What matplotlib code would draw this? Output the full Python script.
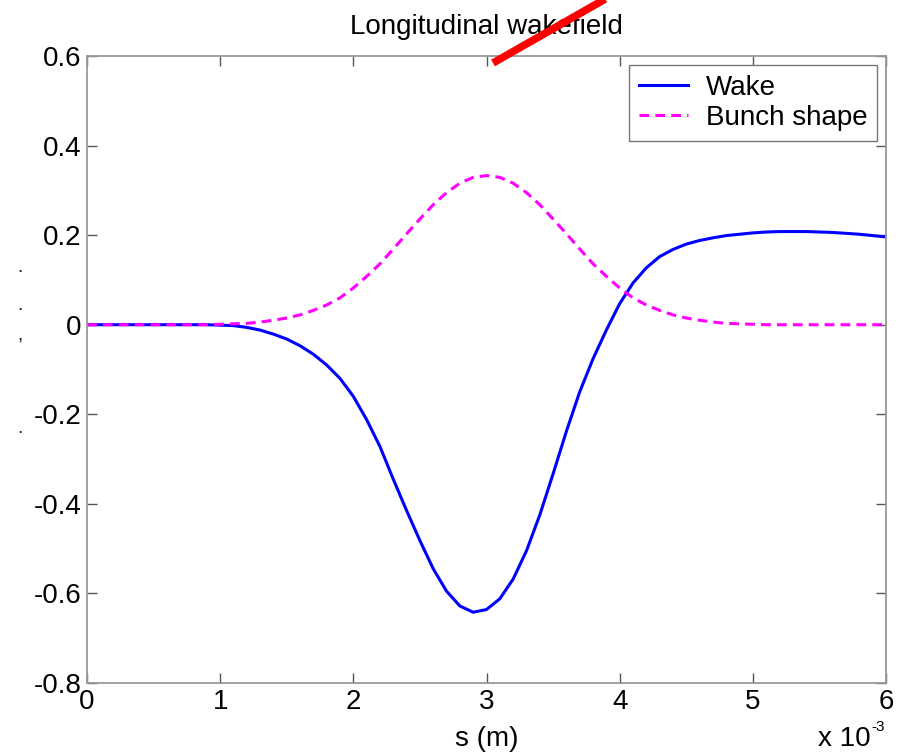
import numpy as np
import matplotlib
matplotlib.use("Agg")
import matplotlib.pyplot as plt
from matplotlib.lines import Line2D

# ------------------------------------------
# data (s in units of 1e-3 m)
# ------------------------------------------
s = np.linspace(0, 6, 61)

wake = [
    0, 0, 0, 0, 0, 0, 0, 0, 0, 0,
    -0.001, -0.002, -0.006, -0.012, -0.021, -0.032, -0.047, -0.066, -0.090, -0.120,
    -0.160, -0.212, -0.272, -0.345, -0.415, -0.482, -0.545, -0.595, -0.628, -0.642,
    -0.636, -0.612, -0.568, -0.505, -0.425, -0.333, -0.238, -0.150, -0.076, -0.012,
    0.047, 0.093, 0.127, 0.152, 0.168, 0.180, 0.188, 0.194, 0.199, 0.202,
    0.205, 0.207, 0.208, 0.208, 0.208, 0.207, 0.206, 0.204, 0.202, 0.199,
    0.196,
]

bunch = [
    0, 0, 0, 0, 0, 0, 0, 0, 0, 0,
    0.001, 0.002, 0.003, 0.006, 0.010, 0.015, 0.022, 0.032, 0.044, 0.060,
    0.082, 0.108, 0.136, 0.169, 0.203, 0.236, 0.268, 0.295, 0.316, 0.329,
    0.333, 0.329, 0.316, 0.295, 0.268, 0.236, 0.203, 0.169, 0.136, 0.108,
    0.082, 0.060, 0.044, 0.032, 0.022, 0.015, 0.010, 0.006, 0.003, 0.002,
    0.001, 0, 0, 0, 0, 0, 0, 0, 0, 0,
    0,
]

x_ticks = [0, 1, 2, 3, 4, 5, 6]
y_ticks = [-0.8, -0.6, -0.4, -0.2, 0, 0.2, 0.4, 0.6]
y_labels = ["-0.8", "-0.6", "-0.4", "-0.2", "0", "0.2", "0.4", "0.6"]

# ------------------------------------------
# figure
# ------------------------------------------
plt.rcParams["font.family"] = ["Liberation Sans", "DejaVu Sans"]
FS = 20
W, H = 906, 753
fig = plt.figure(figsize=(W / 100, H / 100), dpi=100)
ax = fig.add_axes([87 / W, 1 - 683 / H, (886 - 87) / W, (683 - 56) / H])

ax.plot(s, wake, color="#0000ff", lw=2.2, label="Wake")
ax.plot(s, bunch, color="#ff00ff", lw=2.2, ls=(0, (3.2, 2.0)), label="Bunch shape")

ax.set_xlim(0, 6)
ax.set_ylim(-0.8, 0.6)
ax.set_xticks(x_ticks)
ax.set_xticklabels([str(v) for v in x_ticks])
ax.set_yticks(y_ticks)
ax.set_yticklabels(y_labels)
ax.tick_params(direction="in", length=7, width=1, color="#555555", labelsize=FS,
               top=True, right=True, pad=4)
for sp in ax.spines.values():
    sp.set_color("#999999")
    sp.set_linewidth(1.3)

ax.set_title("Longitudinal wakefield", fontsize=FS, pad=16)
ax.set_xlabel("s (m)", fontsize=FS, labelpad=8)

# axis multiplier, bottom right
fig.text(818 / W, 1 - 739 / H, "x 10", fontsize=FS, va="center")
fig.text(871 / W, 1 - 727 / H, "-3", fontsize=11, va="center")

leg = ax.legend(loc="upper right", fontsize=FS, fancybox=False, framealpha=1,
                edgecolor="#777777", borderaxespad=0.32, handlelength=1.75,
                handletextpad=0.65, borderpad=0.35, labelspacing=0.15)
leg.get_frame().set_linewidth(1.0)

# remnants of a clipped y-label at the left edge
for yy, ch in [(268, "."), (305, "."), (336, ","), (428, ".")]:
    fig.text(20 / W, 1 - yy / H, ch, fontsize=14, ha="center", va="center", color="#222222")

# red slash across the title
fig.add_artist(Line2D([493 / W, 607 / W], [1 - 63 / H, 1 + 2 / H],
                      transform=fig.transFigure, color="#ff0000", lw=5.5,
                      solid_capstyle="butt"))

fig.savefig("out.png", dpi=100)
